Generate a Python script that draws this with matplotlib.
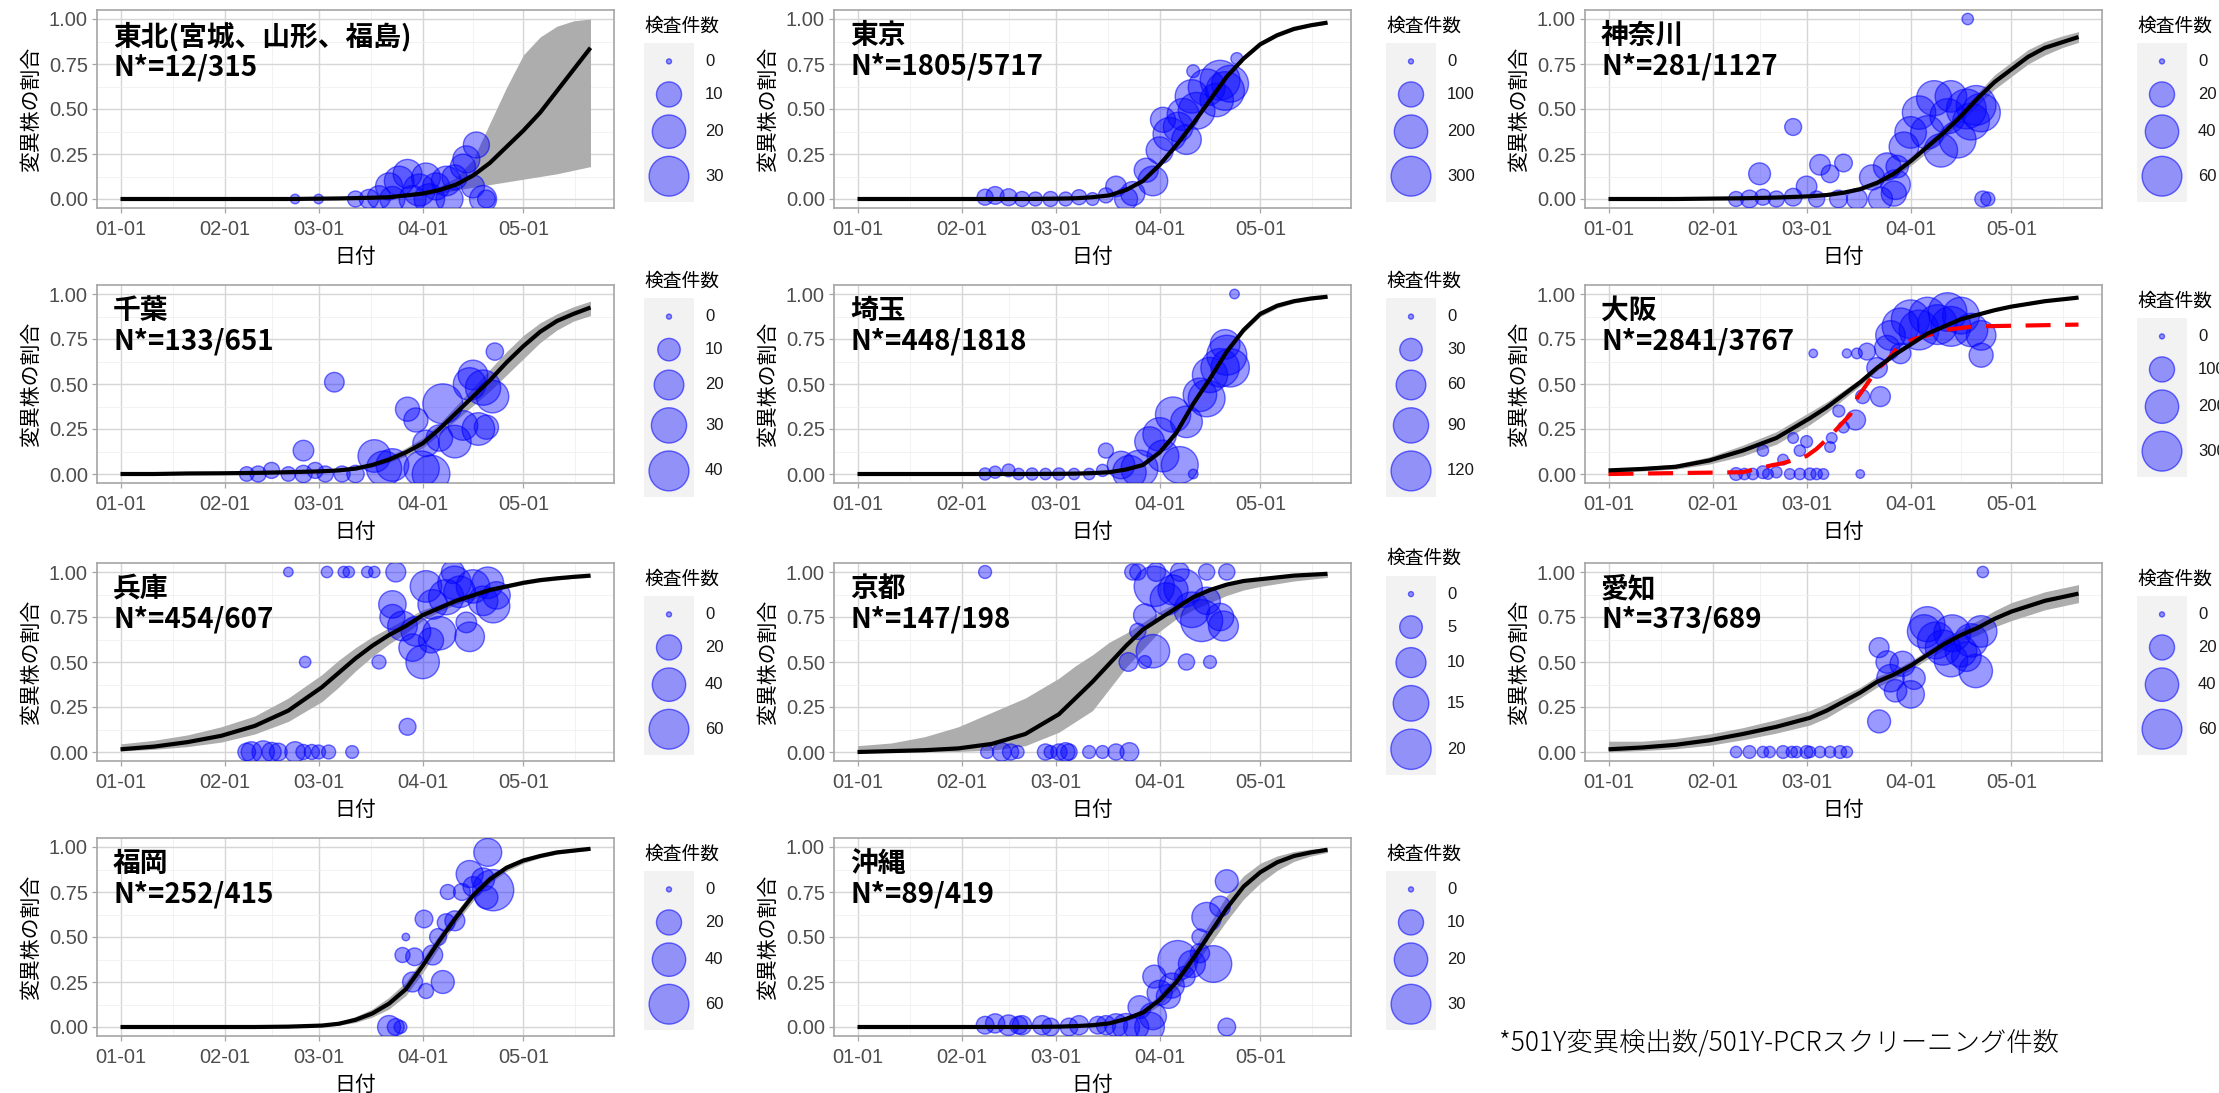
"""Share of variant strain by prefecture: logistic fit, CI ribbon and daily points."""

import matplotlib
matplotlib.use("Agg")
import matplotlib.pyplot as plt
import numpy as np
from matplotlib.patches import Rectangle

plt.rcParams["font.family"] = ["Noto Sans CJK JP", "DejaVu Sans"]

W, H, DPI = 2219, 1093, 100
NUM_FONT = ["Liberation Sans", "DejaVu Sans"]

# days since 01-01 at which the fitted curve / ribbon were read
DAYS = [0, 10, 20, 30, 40, 50, 60, 65, 70, 75, 80, 85, 90, 95, 100, 105, 110, 115, 120, 125, 130, 135, 140]
TICK_DAYS = [0, 31, 59, 90, 120]
TICK_LABELS = ["01-01", "02-01", "03-01", "04-01", "05-01"]

# 東北
tohoku_fit = [0, 0, 0, 0, 0, 0, 0.002, 0.003, 0.005, 0.007, 0.01, 0.02, 0.03, 0.05, 0.08, 0.13, 0.2, 0.29, 0.38, 0.48, 0.6, 0.72, 0.84]
tohoku_lo = [0, 0, 0, 0, 0, 0, 0, 0, 0, 0, 0, 0.01, 0.02, 0.03, 0.05, 0.065, 0.08, 0.095, 0.11, 0.125, 0.14, 0.16, 0.18]
tohoku_hi = [0, 0, 0, 0, 0, 0, 0.003, 0.004, 0.006, 0.009, 0.013, 0.025, 0.04, 0.07, 0.12, 0.22, 0.42, 0.62, 0.8, 0.9, 0.96, 0.99, 1.0]
tohoku_day = [52, 59, 70, 74, 77, 80, 81, 83, 85.5, 87, 89, 91, 92, 94, 97, 98, 99.5, 102, 103, 105, 106, 108, 109]
tohoku_p = [0, 0, 0, 0, 0.01, 0.07, 0, 0.1, 0.14, 0, 0.05, 0.12, 0, 0.07, 0.1, 0, 0.12, 0.18, 0.22, 0.07, 0.3, 0, 0]
tohoku_n = [0.5, 0.5, 3, 5, 8, 12, 10, 15, 14, 12, 18, 14, 16, 12, 15, 12, 10, 10, 12, 8, 11, 12, 4]

# 東京
tokyo_fit = [0, 0, 0, 0, 0, 0, 0.002, 0.004, 0.01, 0.02, 0.05, 0.1, 0.19, 0.3, 0.42, 0.55, 0.68, 0.78, 0.86, 0.91, 0.945, 0.965, 0.98]
tokyo_lo = [0, 0, 0, 0, 0, 0, 0.001, 0.003, 0.008, 0.017, 0.045, 0.09, 0.175, 0.285, 0.405, 0.535, 0.665, 0.77, 0.85, 0.9, 0.935, 0.958, 0.972]
tokyo_hi = [0, 0, 0, 0, 0, 0, 0.003, 0.005, 0.012, 0.023, 0.055, 0.11, 0.205, 0.315, 0.435, 0.565, 0.695, 0.79, 0.87, 0.92, 0.953, 0.972, 0.986]
tokyo_day = [38, 41, 45, 49, 53, 57.5, 62, 66, 70, 74, 77, 80, 82, 86, 88, 90, 91, 93, 95.5, 97,
             98, 99.6, 101, 104, 107, 108, 109.5, 111, 100, 113]
tokyo_p = [0.01, 0.02, 0.01, 0, 0, 0, 0, 0.01, 0, 0.02, 0.07, 0, 0.03, 0.16, 0.1, 0.27, 0.44, 0.36, 0.4, 0.47,
           0.33, 0.57, 0.49, 0.62, 0.55, 0.66, 0.6, 0.64, 0.71, 0.78]
tokyo_n = [30, 40, 35, 25, 20, 25, 20, 25, 15, 25, 60, 80, 90, 90, 150, 120, 100, 200, 150, 180,
           150, 200, 250, 250, 200, 300, 280, 250, 15, 12]

# 神奈川
kanagawa_fit = [0, 0, 0, 0.002, 0.004, 0.008, 0.015, 0.022, 0.035, 0.055, 0.09, 0.14, 0.21, 0.29, 0.37, 0.46, 0.56, 0.65, 0.72, 0.79, 0.84, 0.87, 0.9]
kanagawa_lo = [0, 0, 0, 0, 0.002, 0.005, 0.01, 0.016, 0.027, 0.045, 0.075, 0.12, 0.185, 0.26, 0.34, 0.43, 0.52, 0.61, 0.68, 0.75, 0.8, 0.84, 0.87]
kanagawa_hi = [0, 0, 0, 0.004, 0.007, 0.012, 0.02, 0.029, 0.045, 0.068, 0.105, 0.16, 0.235, 0.32, 0.4, 0.49, 0.59, 0.69, 0.76, 0.83, 0.875, 0.905, 0.93]
kanagawa_day = [38, 42, 46, 50, 55, 62, 68.5, 74, 81, 85, 45, 55, 59, 63, 66, 70, 78.5, 83, 85.5, 86,
                88, 90, 92.5, 95, 97, 99, 101, 102, 104, 106.6, 108, 109.5, 111, 107, 111.5, 113]
kanagawa_p = [0, 0, 0.01, 0, 0.01, 0, 0, 0, 0, 0.03, 0.14, 0.4, 0.07, 0.19, 0.14, 0.2, 0.12, 0.18, 0.08, 0.18,
              0.29, 0.37, 0.48, 0.37, 0.56, 0.27, 0.46, 0.57, 0.33, 0.5, 0.43, 0.52, 0.48, 1.0, 0, 0]
kanagawa_n = [5, 8, 6, 6, 8, 6, 8, 12, 18, 20, 14, 7, 12, 12, 8, 8, 20, 25, 30, 15,
              30, 35, 40, 40, 45, 40, 45, 35, 50, 60, 50, 60, 55, 2, 6, 4]

# 千葉
chiba_fit = [0, 0, 0.003, 0.004, 0.006, 0.01, 0.015, 0.02, 0.03, 0.05, 0.08, 0.12, 0.17, 0.25, 0.34, 0.43, 0.52, 0.62, 0.71, 0.79, 0.85, 0.89, 0.925]
chiba_lo = [0, 0, 0.001, 0.002, 0.003, 0.006, 0.01, 0.014, 0.022, 0.038, 0.065, 0.1, 0.145, 0.22, 0.3, 0.38, 0.46, 0.55, 0.64, 0.73, 0.8, 0.85, 0.88]
chiba_hi = [0, 0, 0.005, 0.006, 0.009, 0.014, 0.02, 0.027, 0.04, 0.065, 0.1, 0.145, 0.2, 0.28, 0.38, 0.48, 0.58, 0.68, 0.77, 0.84, 0.89, 0.93, 0.96]
chiba_day = [37.6, 41, 45, 50, 54.5, 58, 61, 66, 70, 54.5, 63.7, 75.6, 78.5, 81, 85.5, 88, 89.7, 91, 92.5,
             96, 95, 99.6, 102, 104, 105, 109, 110.8, 111.5, 106.6, 108]
chiba_p = [0, 0, 0.02, 0, 0, 0.02, 0, 0, 0, 0.13, 0.51, 0.1, 0.03, 0.05, 0.36, 0.3, 0.03, 0.17, 0,
           0.39, 0.2, 0.18, 0.27, 0.5, 0.55, 0.26, 0.43, 0.68, 0.25, 0.48]
chiba_n = [3, 4, 4, 3, 5, 4, 4, 4, 5, 8, 7, 25, 30, 25, 12, 12, 30, 15, 35,
           40, 15, 25, 20, 25, 20, 12, 25, 5, 25, 30]

# 埼玉
saitama_fit = [0, 0, 0, 0, 0, 0, 0.001, 0.002, 0.005, 0.01, 0.025, 0.05, 0.12, 0.23, 0.39, 0.53, 0.68, 0.8, 0.89, 0.935, 0.96, 0.975, 0.985]
saitama_lo = [0, 0, 0, 0, 0, 0, 0, 0.001, 0.003, 0.007, 0.02, 0.042, 0.108, 0.215, 0.375, 0.515, 0.665, 0.785, 0.875, 0.922, 0.95, 0.966, 0.977]
saitama_hi = [0, 0, 0, 0, 0, 0, 0.002, 0.003, 0.007, 0.013, 0.03, 0.058, 0.132, 0.245, 0.405, 0.545, 0.695, 0.815, 0.902, 0.945, 0.968, 0.982, 0.99]
saitama_day = [38, 41, 45, 48, 52, 56, 60, 64.5, 69, 73, 74, 78.5, 81, 84, 87, 90, 91, 94, 96, 98,
               100, 102, 104, 105, 108, 110, 111, 109.5, 112.3]
saitama_p = [0, 0.01, 0.02, 0, 0, 0, 0, 0, 0, 0.02, 0.13, 0.05, 0.01, 0.03, 0.18, 0.22, 0.1, 0.33, 0.05, 0.29,
             0, 0.44, 0.42, 0.55, 0.59, 0.66, 0.59, 0.72, 1.0]
saitama_n = [5, 5, 6, 4, 5, 4, 5, 4, 4, 5, 10, 50, 80, 100, 60, 80, 70, 90, 100, 70,
             2, 80, 100, 90, 110, 120, 110, 60, 2]

# 大阪
osaka_fit = [0.02, 0.028, 0.04, 0.075, 0.13, 0.2, 0.31, 0.37, 0.44, 0.51, 0.59, 0.66, 0.72, 0.78, 0.82, 0.86, 0.885, 0.91, 0.93, 0.945, 0.96, 0.97, 0.98]
osaka_lo = [0.01, 0.017, 0.027, 0.055, 0.1, 0.165, 0.275, 0.34, 0.415, 0.49, 0.575, 0.65, 0.71, 0.772, 0.814, 0.855, 0.88, 0.905, 0.925, 0.94, 0.955, 0.966, 0.976]
osaka_hi = [0.03, 0.04, 0.055, 0.095, 0.16, 0.235, 0.345, 0.4, 0.465, 0.53, 0.605, 0.67, 0.73, 0.788, 0.826, 0.865, 0.89, 0.915, 0.935, 0.95, 0.965, 0.974, 0.984]
osaka_day = [38, 40.5, 43, 46, 47.5, 50, 54, 57, 60, 62, 64, 75, 46, 52, 55, 57, 59, 61, 66, 66.5,
             68.6, 70, 71, 73.6, 74, 75.7, 77, 81, 80, 84, 87, 90, 92.5, 95, 98, 101, 102, 105, 108, 111,
             111, 87, 83]
osaka_p = [0, 0, 0, 0.01, 0, 0.01, 0, 0, 0, 0, 0, 0, 0.13, 0.08, 0.2, 0.13, 0.18, 0.67, 0.15, 0.2,
           0.35, 0.26, 0.67, 0.3, 0.67, 0.43, 0.68, 0.43, 0.59, 0.77, 0.82, 0.86, 0.8, 0.88, 0.83, 0.9, 0.82, 0.88, 0.8, 0.77,
           0.66, 0.67, 0.7]
osaka_n = [15, 10, 10, 15, 8, 10, 8, 10, 12, 10, 8, 3, 10, 8, 8, 10, 12, 3, 8, 8,
           12, 10, 4, 55, 8, 20, 35, 55, 60, 150, 250, 280, 300, 250, 300, 280, 300, 250, 200, 150,
           90, 60, 100]
osaka_obs_day = [0, 40, 49, 52, 59, 62, 66, 69, 72, 74, 77, 80, 83, 86, 91, 95, 100, 109, 140]
osaka_obs_p = [0, 0.01, 0.05, 0.06, 0.1, 0.14, 0.21, 0.27, 0.33, 0.42, 0.5, 0.58, 0.63, 0.7, 0.75, 0.77, 0.8, 0.82, 0.83]

# 兵庫
hyogo_fit = [0.015, 0.03, 0.055, 0.09, 0.145, 0.23, 0.36, 0.44, 0.52, 0.59, 0.65, 0.7, 0.76, 0.8, 0.84, 0.87, 0.9, 0.92, 0.94, 0.955, 0.965, 0.973, 0.98]
hyogo_lo = [0.005, 0.015, 0.03, 0.055, 0.1, 0.17, 0.28, 0.36, 0.45, 0.53, 0.6, 0.66, 0.73, 0.78, 0.82, 0.85, 0.885, 0.91, 0.93, 0.945, 0.955, 0.965, 0.97]
hyogo_hi = [0.045, 0.065, 0.095, 0.14, 0.2, 0.3, 0.43, 0.51, 0.58, 0.64, 0.69, 0.74, 0.79, 0.82, 0.86, 0.89, 0.915, 0.935, 0.95, 0.963, 0.973, 0.98, 0.985]
hyogo_day = [37.6, 39, 42.5, 45, 47, 52, 54.5, 57, 59, 62, 69, 50, 61.5, 66.5, 68, 73.5, 75.6, 82, 99, 55,
             77, 85.5, 81, 81, 84, 87, 88, 90, 91, 93, 95, 97, 99.5, 101, 104, 103, 105, 108, 111, 109.4,
             112, 92.5]
hyogo_p = [0, 0, 0, 0, 0, 0, 0, 0, 0, 0, 0, 1, 1, 1, 1, 1, 1, 1, 1, 0.5,
           0.5, 0.14, 0.82, 0.75, 0.7, 0.58, 0.67, 0.5, 0.92, 0.82, 0.66, 0.86, 0.94, 0.89, 0.64, 0.72, 0.92, 0.84, 0.81, 0.94,
           0.87, 0.62]
hyogo_n = [8, 12, 15, 10, 8, 12, 5, 5, 4, 4, 3, 1, 2, 2, 2, 2, 2, 11, 16, 2,
           4, 7, 25, 20, 30, 25, 30, 40, 35, 30, 40, 45, 40, 35, 30, 12, 40, 30, 40, 35,
           25, 20]

# 京都
kyoto_fit = [0, 0.005, 0.01, 0.02, 0.045, 0.1, 0.21, 0.3, 0.39, 0.49, 0.59, 0.68, 0.74, 0.8, 0.86, 0.9, 0.93, 0.95, 0.96, 0.97, 0.98, 0.985, 0.99]
kyoto_lo = [0, 0, 0, 0.003, 0.01, 0.035, 0.11, 0.17, 0.23, 0.35, 0.47, 0.57, 0.67, 0.74, 0.79, 0.83, 0.87, 0.9, 0.92, 0.935, 0.95, 0.96, 0.97]
kyoto_hi = [0.035, 0.05, 0.085, 0.14, 0.22, 0.3, 0.41, 0.48, 0.54, 0.61, 0.66, 0.72, 0.78, 0.83, 0.87, 0.91, 0.94, 0.955, 0.965, 0.975, 0.983, 0.988, 0.992]
kyoto_day = [38.6, 43, 45.6, 47.7, 56, 57.5, 60, 62, 63, 69, 73, 77, 81,
             38, 82, 83.5, 89, 96, 104, 110,
             85.6, 88.4, 92, 94, 97, 99.6, 102.5, 108, 109, 88, 83.5, 80.7, 85.6, 98, 105, 104]
kyoto_p = [0, 0, 0, 0, 0, 0, 0, 0, 0, 0, 0, 0, 0,
           1, 1, 1, 1, 1, 1, 1,
           0.76, 0.92, 0.85, 0.9, 0.91, 0.79, 0.73, 0.75, 0.7, 0.56, 0.67, 0.5, 0.5, 0.5, 0.5, 0.84]
kyoto_n = [1, 3, 2, 1, 2, 1, 2, 3, 2, 1, 1, 2, 3,
           1, 2, 2, 3, 3, 2, 2,
           5, 20, 12, 10, 18, 15, 22, 8, 10, 13, 2, 3, 1, 2, 1, 8]

# 愛知
aichi_fit = [0.015, 0.025, 0.04, 0.065, 0.1, 0.14, 0.19, 0.23, 0.28, 0.33, 0.39, 0.43, 0.48, 0.54, 0.6, 0.65, 0.69, 0.74, 0.78, 0.81, 0.84, 0.86, 0.88]
aichi_lo = [0.0, 0.008, 0.018, 0.037, 0.068, 0.105, 0.15, 0.19, 0.245, 0.3, 0.36, 0.405, 0.455, 0.515, 0.57, 0.615, 0.65, 0.695, 0.73, 0.76, 0.79, 0.81, 0.83]
aichi_hi = [0.06, 0.06, 0.075, 0.1, 0.135, 0.18, 0.23, 0.27, 0.315, 0.36, 0.42, 0.455, 0.505, 0.565, 0.63, 0.685, 0.73, 0.785, 0.83, 0.86, 0.89, 0.91, 0.93]
aichi_day = [38, 42, 46, 48, 52, 54.6, 56, 59, 60, 63, 66, 69, 71,
             80.6, 80.6, 83, 84, 85.5, 87.6, 90, 91, 94, 95, 97.5, 99.6, 102, 102.4, 105, 108, 109.4, 111, 106.6, 111.5]
aichi_p = [0, 0, 0, 0, 0, 0, 0, 0, 0, 0, 0, 0, 0,
           0.58, 0.17, 0.5, 0.41, 0.34, 0.49, 0.32, 0.41, 0.67, 0.71, 0.62, 0.58, 0.51, 0.66, 0.56, 0.62, 0.45, 0.67, 0.53, 1.0]
aichi_n = [2, 3, 2, 2, 3, 2, 2, 3, 2, 2, 2, 3, 2,
           11, 16, 15, 25, 15, 20, 25, 15, 40, 45, 50, 45, 40, 50, 35, 40, 40, 35, 30, 2]

# 福岡
fukuoka_fit = [0, 0, 0, 0, 0, 0.002, 0.008, 0.018, 0.04, 0.075, 0.13, 0.21, 0.34, 0.48, 0.61, 0.73, 0.82, 0.885, 0.925, 0.95, 0.97, 0.98, 0.99]
fukuoka_lo = [0, 0, 0, 0, 0, 0, 0.003, 0.01, 0.025, 0.055, 0.1, 0.175, 0.3, 0.445, 0.58, 0.7, 0.8, 0.865, 0.91, 0.94, 0.96, 0.972, 0.983]
fukuoka_hi = [0, 0, 0, 0, 0, 0.004, 0.014, 0.028, 0.058, 0.1, 0.165, 0.25, 0.38, 0.515, 0.64, 0.76, 0.845, 0.9, 0.94, 0.96, 0.978, 0.987, 0.995]
fukuoka_day = [80, 82, 83.4, 85, 84, 87.6, 87, 91, 90.4, 93, 94.6, 96, 97, 97.5, 99.6, 101.7, 104, 105, 108, 109.4, 111, 109]
fukuoka_p = [0, 0, 0, 0.5, 0.4, 0.39, 0.25, 0.2, 0.6, 0.4, 0.5, 0.25, 0.58, 0.75, 0.59, 0.75, 0.85, 0.78, 0.82, 0.97, 0.76, 0.72]
fukuoka_n = [16, 7, 3, 0.3, 5, 8, 11, 5, 8, 11, 7, 16, 8, 5, 11, 7, 24, 11, 16, 26, 65, 16]

# 沖縄
okinawa_fit = [0, 0, 0, 0, 0, 0, 0.002, 0.005, 0.01, 0.02, 0.045, 0.08, 0.15, 0.25, 0.38, 0.52, 0.66, 0.78, 0.86, 0.915, 0.95, 0.97, 0.985]
okinawa_lo = [0, 0, 0, 0, 0, 0, 0.001, 0.003, 0.006, 0.014, 0.033, 0.062, 0.12, 0.21, 0.33, 0.46, 0.59, 0.71, 0.8, 0.87, 0.92, 0.95, 0.97]
okinawa_hi = [0, 0, 0, 0, 0, 0, 0.003, 0.008, 0.015, 0.028, 0.058, 0.1, 0.18, 0.29, 0.43, 0.58, 0.73, 0.84, 0.91, 0.95, 0.975, 0.988, 0.995]
okinawa_day = [38, 41, 45, 48, 49, 55, 57.5, 63, 66, 71.6, 74, 77, 80, 83, 87, 110, 84, 88.4, 90, 92.6,
               95.4, 97.5, 99.6, 102, 104, 102, 106, 108, 110, 88, 93.6]
okinawa_p = [0.01, 0.02, 0.01, 0.01, 0.01, 0.01, 0, 0, 0.01, 0.01, 0.01, 0.01, 0, 0, 0, 0, 0.11, 0.28, 0.19, 0.17,
             0.37, 0.28, 0.35, 0.41, 0.61, 0.5, 0.35, 0.67, 0.81, 0.06, 0.23]
okinawa_n = [4, 5, 6, 4, 5, 5, 4, 4, 5, 4, 5, 8, 12, 10, 15, 4, 8, 8, 10, 9,
             30, 6, 12, 5, 15, 3, 25, 6, 8, 12, 10]

NAMES = ["東北(宮城、山形、福島)", "東京", "神奈川", "千葉", "埼玉", "大阪",
         "兵庫", "京都", "愛知", "福岡", "沖縄"]
COUNTS = ["N*=12/315", "N*=1805/5717", "N*=281/1127", "N*=133/651", "N*=448/1818", "N*=2841/3767",
          "N*=454/607", "N*=147/198", "N*=373/689", "N*=252/415", "N*=89/419"]
LEGEND_BREAKS = [[0, 10, 20, 30], [0, 100, 200, 300], [0, 20, 40, 60], [0, 10, 20, 30, 40],
                 [0, 30, 60, 90, 120], [0, 100, 200, 300], [0, 20, 40, 60], [0, 5, 10, 15, 20],
                 [0, 20, 40, 60], [0, 20, 40, 60], [0, 10, 20, 30]]
SIZE_MAX = [34, 340, 68, 45, 135, 340, 68, 22, 68, 68, 34]

CURVES = [(tohoku_fit, tohoku_lo, tohoku_hi), (tokyo_fit, tokyo_lo, tokyo_hi),
          (kanagawa_fit, kanagawa_lo, kanagawa_hi), (chiba_fit, chiba_lo, chiba_hi),
          (saitama_fit, saitama_lo, saitama_hi), (osaka_fit, osaka_lo, osaka_hi),
          (hyogo_fit, hyogo_lo, hyogo_hi), (kyoto_fit, kyoto_lo, kyoto_hi),
          (aichi_fit, aichi_lo, aichi_hi), (fukuoka_fit, fukuoka_lo, fukuoka_hi),
          (okinawa_fit, okinawa_lo, okinawa_hi)]
POINTS = [(tohoku_day, tohoku_p, tohoku_n), (tokyo_day, tokyo_p, tokyo_n),
          (kanagawa_day, kanagawa_p, kanagawa_n), (chiba_day, chiba_p, chiba_n),
          (saitama_day, saitama_p, saitama_n), (osaka_day, osaka_p, osaka_n),
          (hyogo_day, hyogo_p, hyogo_n), (kyoto_day, kyoto_p, kyoto_n),
          (aichi_day, aichi_p, aichi_n), (fukuoka_day, fukuoka_p, fukuoka_n),
          (okinawa_day, okinawa_p, okinawa_n)]

# layout in pixels
COL_LEFT = [97, 834, 1585]
ROW_TOP = [10, 285, 563, 838]
PW, PH = 517, 198
LEG_LEFT = [644, 1386, 2137]

FILL = (0, 0, 1, 0.4)
EDGE = (0, 0, 1, 0.55)


def diam_px(n, nmax):
    return 5 + 37 * np.sqrt(np.asarray(n, float) / nmax)


def marker_area(n, nmax):
    return (diam_px(n, nmax) * 72 / DPI) ** 2


fig = plt.figure(figsize=(W / DPI, H / DPI), dpi=DPI)
fig.patch.set_facecolor("white")

ov = fig.add_axes([0, 0, 1, 1], zorder=10)
ov.set_xlim(0, W)
ov.set_ylim(H, 0)
ov.axis("off")

for i, name in enumerate(NAMES):
    row, col = divmod(i, 3)
    left, top = COL_LEFT[col], ROW_TOP[row]
    ax = fig.add_axes([left / W, 1 - (top + PH) / H, PW / W, PH / H])

    fit, lo, hi = CURVES[i]
    day, p, n = POINTS[i]
    ax.fill_between(DAYS, lo, hi, color="#adadad", lw=0, zorder=2)
    ax.scatter(day, p, s=marker_area(n, SIZE_MAX[i]), facecolors=[FILL], edgecolors=[EDGE],
               linewidths=1.0, zorder=3)
    if name == "大阪":
        ax.plot(osaka_obs_day, osaka_obs_p, color="red", lw=3, ls=(0, (6, 3.5)), zorder=4)
    ax.plot(DAYS, fit, color="black", lw=3, zorder=5, solid_capstyle="butt")

    ax.set_xlim(-7, 147)
    ax.set_ylim(-0.05, 1.05)
    ax.set_xticks(TICK_DAYS, TICK_LABELS, fontfamily=NUM_FONT)
    ax.set_yticks([0, 0.25, 0.5, 0.75, 1.0], ["0.00", "0.25", "0.50", "0.75", "1.00"], fontfamily=NUM_FONT)
    ax.set_xticks([15.5, 45, 74.5, 105, 135.5], minor=True)
    ax.set_yticks([0.125, 0.375, 0.625, 0.875], minor=True)
    ax.grid(which="major", color="#d6d6d6", lw=1.0)
    ax.grid(which="minor", color="#f0f0f0", lw=0.6)
    ax.set_axisbelow(True)
    ax.tick_params(which="major", length=3.6, width=0.9, color="#a6a6a6",
                   labelsize=14.5, labelcolor="#4d4d4d")
    ax.tick_params(axis="x", pad=5)
    ax.tick_params(axis="y", pad=3)
    ax.tick_params(which="minor", length=0)
    for sp in ax.spines.values():
        sp.set_color("#a6a6a6")
        sp.set_linewidth(1.2)

    ax.set_xlabel("日付", fontsize=15, va="center")
    ax.xaxis.set_label_coords(0.5, -0.247)
    ax.set_ylabel("変異株の割合", fontsize=15, va="center")
    ax.yaxis.set_label_coords(-0.128, 0.5)

    ax.text(0.031, 0.94, f"{name}\n{COUNTS[i]}", transform=ax.transAxes, ha="left", va="top",
            fontsize=20, fontweight="bold", linespacing=1.1, zorder=6)

    # size legend
    breaks = np.array(LEGEND_BREAKS[i], float)
    d = diam_px(breaks, SIZE_MAX[i])
    keys = np.maximum(33, d + 8)
    box_h = keys.sum() + 4
    cy = top + PH / 2
    box_top = cy - (box_h + 27) / 2 + 27
    bx = LEG_LEFT[col]
    ov.add_patch(Rectangle((bx, box_top), 50, box_h, facecolor="#f2f2f2", edgecolor="none"))
    centers = box_top + 2 + np.cumsum(keys) - keys / 2
    ov.scatter(np.full(len(breaks), bx + 25), centers, s=marker_area(breaks, SIZE_MAX[i]),
               facecolors=[FILL], edgecolors=[EDGE], linewidths=1.0)
    for b, c in zip(LEGEND_BREAKS[i], centers):
        ov.text(bx + 61, c, str(b), ha="left", va="center", fontsize=12, fontfamily=NUM_FONT, color="#1a1a1a")
    ov.text(bx, box_top - 17, "検査件数", ha="left", va="center", fontsize=13.5)

ov.text(1499, 1042, "*501Y変異検出数/501Y-PCRスクリーニング件数", ha="left", va="center",
        fontsize=19, fontweight="light")

fig.savefig("out.png", dpi=DPI)
